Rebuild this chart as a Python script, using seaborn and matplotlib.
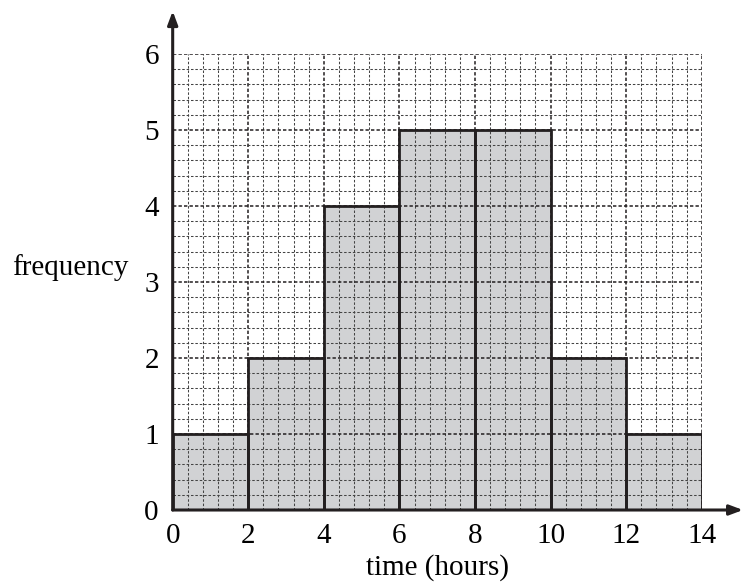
import matplotlib
matplotlib.use("Agg")
import matplotlib.pyplot as plt
from matplotlib.ticker import MultipleLocator
import seaborn as sns
import pandas as pd

# data
bin_edges = [0, 2, 4, 6, 8, 10, 12, 14]
frequencies = [1, 2, 4, 5, 5, 2, 1]
x_ticks = [0, 2, 4, 6, 8, 10, 12, 14]
y_ticks = [0, 1, 2, 3, 4, 5, 6]
x_label = "time (hours)"
y_label = "frequency"

mids = [(a + b) / 2 for a, b in zip(bin_edges[:-1], bin_edges[1:])]
df = pd.DataFrame({"time": mids, "freq": frequencies})

sns.set_style("white")
plt.rcParams["font.family"] = ["Liberation Serif", "DejaVu Serif"]

ink = "#231f20"
fill = "#d1d2d4"

fig = plt.figure(figsize=(7.44, 5.83), dpi=100)
ax = fig.add_axes([0.2321, 0.1252, 0.9432 - 0.2321, 0.9074 - 0.1252])

sns.histplot(data=df, x="time", weights="freq", bins=bin_edges, ax=ax,
             color=fill, alpha=1, linewidth=0, zorder=1)
sns.histplot(data=df, x="time", weights="freq", bins=bin_edges, ax=ax,
             fill=False, color=ink, linewidth=2.0, zorder=4)

ax.set_xlim(0, 14)
ax.set_ylim(0, 6)
ax.set_xticks(x_ticks)
ax.set_yticks(y_ticks)
ax.xaxis.set_minor_locator(MultipleLocator(0.4))
ax.yaxis.set_minor_locator(MultipleLocator(0.2))

ax.grid(which="minor", color="#444444", linestyle=(0, (2.4, 1.8)), linewidth=0.75, zorder=2)
ax.grid(which="major", color=ink, linestyle=(0, (2.2, 1.4)), linewidth=1.1, zorder=2)
ax.set_axisbelow(False)

for s in ax.spines.values():
    s.set_visible(False)

ax.tick_params(which="major", direction="out", length=6, width=1.8, color=ink,
               labelsize=21, labelcolor="black")
ax.tick_params(axis="x", pad=3)
ax.tick_params(axis="y", pad=4)
ax.tick_params(which="minor", length=0)

# arrow axes
ax.annotate("", xy=(0, 1.094), xycoords="axes fraction", xytext=(0, 0),
            textcoords="axes fraction",
            arrowprops=dict(arrowstyle="-|>,head_length=0.8,head_width=0.3",
                            lw=2.2, color=ink, shrinkA=0, shrinkB=0),
            annotation_clip=False, zorder=6)
ax.annotate("", xy=(1.078, 0), xycoords="axes fraction", xytext=(0, 0),
            textcoords="axes fraction",
            arrowprops=dict(arrowstyle="-|>,head_length=0.8,head_width=0.3",
                            lw=2.2, color=ink, shrinkA=0, shrinkB=0),
            annotation_clip=False, zorder=6)

ax.set_xlabel(x_label, fontsize=21, labelpad=4, color="black")
ax.set_ylabel(y_label, fontsize=21, rotation=0, ha="right", va="center", color="black")
ax.yaxis.set_label_coords(-0.083, 0.531)

fig.savefig("out.png", dpi=100)
